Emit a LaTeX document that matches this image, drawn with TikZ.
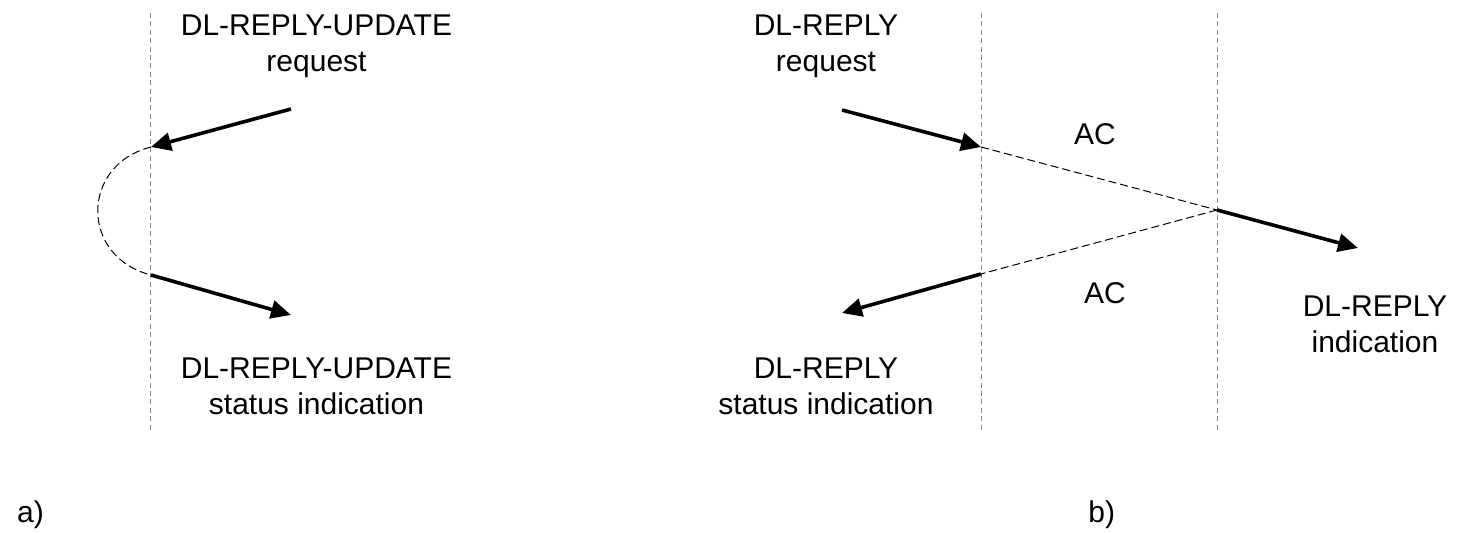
\documentclass[tikz,border=0pt]{standalone}
\usepackage{fontspec}
\setmainfont{Liberation Sans}
\usetikzlibrary{arrows.meta}
\begin{document}
\begin{tikzpicture}[x=0.5pt,y=-0.5pt,
  lbl/.style={font=\fontsize{15}{18}\selectfont, align=center, inner sep=0pt, anchor=base},
  lane/.style={draw=black!45, line width=0.5pt, dash pattern=on 2.5pt off 1.7pt},
  flow/.style={line width=1.8pt, -{Triangle[length=10pt,width=9pt]}},
  link/.style={line width=0.5pt, dash pattern=on 4pt off 2pt}]
\useasboundingbox (0,0) rectangle (1462,533);
% lanes
\coordinate (L1t) at (150,13);  \coordinate (L1b) at (150,430);
\coordinate (L2t) at (981,13);  \coordinate (L2b) at (981,430);
\coordinate (L3t) at (1217,13); \coordinate (L3b) at (1217,430);
\draw[lane] (L1t) -- (L1b);
\draw[lane] (L2t) -- (L2b);
\draw[lane] (L3t) -- (L3b);
% points
\coordinate (a1s) at (291,109); \coordinate (a1e) at (151,147);
\coordinate (a2s) at (151,275); \coordinate (a2e) at (291,315);
\coordinate (b1s) at (842,110); \coordinate (b1e) at (981,147);
\coordinate (m) at (1217,210);  \coordinate (b2e) at (1358,248);
\coordinate (c1) at (981,274);  \coordinate (c2e) at (842,313);
% labels (base = baseline of the last line)
\node[lbl] (t1) at (316.5,72) {DL-REPLY-UPDATE\\request};
\node[lbl] (t2) at (316.5,415) {DL-REPLY-UPDATE\\status indication};
\node[lbl] (t3) at (826,72) {DL-REPLY\\request};
\node[lbl] (t4) at (826,415) {DL-REPLY\\status indication};
\node[lbl] (t5) at (1375,353) {DL-REPLY\\indication};
\node[lbl] (ac1) at (1095,145) {AC};
\node[lbl] (ac2) at (1105,304) {AC};
\node[lbl, anchor=base west] (la) at (16.7,523) {a)};
\node[lbl, anchor=base west] (lb) at (1088,523) {b)};
% a)
\draw[flow] (a1s) -- (a1e);
\draw[link] (a1e) .. controls (80,165) and (80,257) .. (a2s);
\draw[flow] (a2s) -- (a2e);
% b)
\draw[flow] (b1s) -- (b1e);
\draw[link] (b1e) -- (m);
\draw[flow] (m) -- (b2e);
\draw[link] (m) -- (c1);
\draw[flow] (c1) -- (c2e);
\end{tikzpicture}
\end{document}
